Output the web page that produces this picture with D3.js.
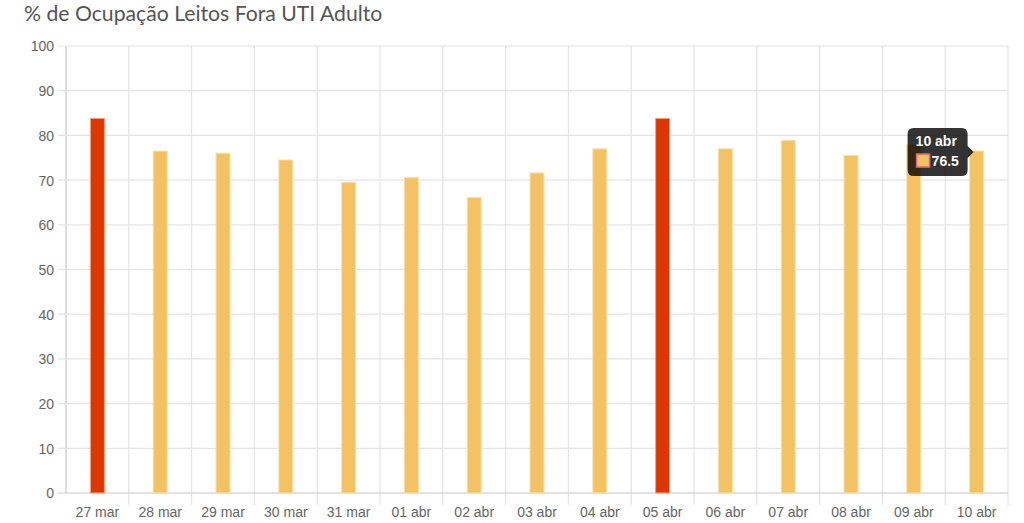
<!DOCTYPE html>
<html>
<head>
<meta charset="utf-8">
<script src="https://cdnjs.cloudflare.com/ajax/libs/d3/7.8.5/d3.min.js"></script>
<style>
  body { margin: 0; background: #fff; }
  .tick text { font-family: "Liberation Sans", Arial, sans-serif; font-size: 14px; fill: #666; }
  .title { font-family: Lato, sans-serif; font-size: 21.2px; fill: #555; }
</style>
</head>
<body>
<div id="graphic"></div>
<script>
// dias e % de ocupacao
var dias = ['27 mar', '28 mar', '29 mar', '30 mar', '31 mar', '01 abr', '02 abr', '03 abr',
            '04 abr', '05 abr', '06 abr', '07 abr', '08 abr', '09 abr', '10 abr'];
var ocupacao = [83.8, 76.5, 76.0, 74.5, 69.5, 70.6, 66.1, 71.6, 77.0, 83.8, 77.0, 78.9, 75.5, 78.0, 76.5];
var destaque = [true, false, false, false, false, false, false, false, false, true, false, false, false, false, false];
var yTicks = [0, 10, 20, 30, 40, 50, 60, 70, 80, 90, 100];

var margin = {top: 46, right: 16, bottom: 30, left: 66};
var width = 1024 - margin.left - margin.right,
    height = 523 - margin.top - margin.bottom;

var svg = d3.select("#graphic").append("svg")
    .attr("width", 1024)
    .attr("height", 523);

svg.append("text")
    .attr("class", "title")
    .attr("x", 24)
    .attr("y", 21)
    .text("% de Ocupação Leitos Fora UTI Adulto");

var canvas = svg.append("g")
    .attr("transform", "translate(" + margin.left + "," + margin.top + ")");

var x = d3.scaleBand()
    .range([0, width])
    .domain(dias);

var y = d3.scaleLinear()
    .range([height, 0])
    .domain([0, 100]);

// vertical grid on category boundaries
var bounds = dias.map(function (d) { return x(d); }).concat([width]);
canvas.selectAll(".vgrid")
    .data(bounds)
    .enter().append("line")
    .attr("class", "vgrid")
    .attr("x1", d => d).attr("x2", d => d)
    .attr("y1", 0).attr("y2", (d, i) => i == 0 ? height : height + 12)
    .attr("stroke", (d, i) => i == 0 ? "#c8c8c8" : "#e4e4e4")
    .attr("stroke-width", 1.2);

// horizontal grid
canvas.selectAll(".hgrid")
    .data(yTicks)
    .enter().append("line")
    .attr("class", "hgrid")
    .attr("x1", -8).attr("x2", width)
    .attr("y1", d => y(d)).attr("y2", d => y(d))
    .attr("stroke", d => d == 0 ? "#c8c8c8" : "#e4e4e4")
    .attr("stroke-width", 1.2);

var yAxis = d3.axisLeft(y).tickValues(yTicks).tickSize(0).tickPadding(12);
var gy = canvas.append("g").call(yAxis);
gy.select(".domain").remove();
gy.selectAll("text").attr("dy", "0.35em");

var xAxis = d3.axisBottom(x).tickSize(0).tickPadding(14);
var gx = canvas.append("g")
    .attr("transform", "translate(0," + height + ")")
    .call(xAxis);
gx.select(".domain").remove();
gx.selectAll("text").attr("dy", "0.71em");

var barW = 14;
canvas.selectAll(".bar")
    .data(ocupacao)
    .enter().append("rect")
    .attr("class", "bar")
    .attr("x", (d, i) => x(dias[i]) + x.bandwidth() / 2 - barW / 2)
    .attr("width", barW)
    .attr("y", d => y(d))
    .attr("height", d => height - y(d))
    .attr("fill", (d, i) => destaque[i] ? "#dd3700" : "#f3c264")
    .attr("stroke", (d, i) => destaque[i] ? "#f5a07e" : "#fbe0ae")
    .attr("stroke-width", 1);

// tooltip on the last bar
var last = dias.length - 1;
var tipX = x(dias[last]) + x.bandwidth() / 2 - barW / 2 + 4;
var tipY = y(ocupacao[last]) + 1;
var tw = 60, th = 48;
var tip = canvas.append("g")
    .attr("transform", "translate(" + (tipX - tw - 6) + "," + (tipY - th / 2) + ")");

var p = d3.path(), r = 6;
p.moveTo(r, 0);
p.lineTo(tw - r, 0);
p.quadraticCurveTo(tw, 0, tw, r);
p.lineTo(tw, th / 2 - 6);
p.lineTo(tw + 6, th / 2);
p.lineTo(tw, th / 2 + 6);
p.lineTo(tw, th - r);
p.quadraticCurveTo(tw, th, tw - r, th);
p.lineTo(r, th);
p.quadraticCurveTo(0, th, 0, th - r);
p.lineTo(0, r);
p.quadraticCurveTo(0, 0, r, 0);
p.closePath();

tip.append("path")
    .attr("d", p.toString())
    .attr("fill", "rgba(0,0,0,0.8)");

tip.append("text")
    .attr("x", 8).attr("y", 18)
    .attr("fill", "#fff")
    .style("font-family", "'Liberation Sans', Arial, sans-serif")
    .style("font-size", "14px")
    .style("font-weight", "bold")
    .text(dias[last]);

tip.append("rect")
    .attr("x", 9).attr("y", 26)
    .attr("width", 13).attr("height", 13)
    .attr("fill", "#f3c264")
    .attr("stroke", "#e9647a")
    .attr("stroke-width", 1.5);

tip.append("text")
    .attr("x", 24).attr("y", 38)
    .attr("fill", "#fff")
    .style("font-family", "'Liberation Sans', Arial, sans-serif")
    .style("font-size", "14px")
    .style("font-weight", "bold")
    .text(ocupacao[last]);
</script>
</body>
</html>
